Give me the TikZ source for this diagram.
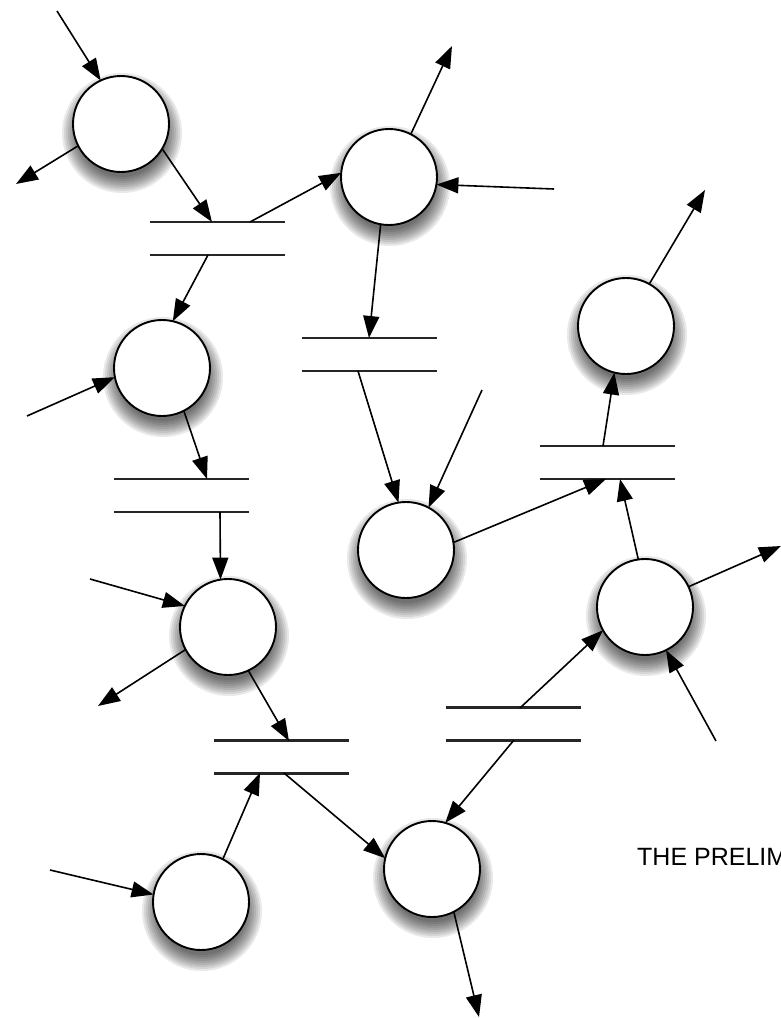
\documentclass[tikz,border=0pt]{standalone}
\usepackage{fontspec}
\newfontfamily\labelfont{Liberation Sans}
\usetikzlibrary{arrows.meta}
\begin{document}
\begin{tikzpicture}[x=1pt,y=-1pt,
  proc/.style={circle, draw=black, line width=1.9pt, fill=white, minimum size=96pt, inner sep=0pt, outer sep=0pt},
  store/.style={rectangle, minimum width=135pt, minimum height=33pt, inner sep=0pt, outer sep=0pt},
  storeline/.style={line width=2.2pt, draw=black!85},
  flow/.style={-{Triangle[length=22pt,width=16pt]}, line width=1.6pt},
  shade/.style={fill=black, opacity=0.085}
]
\useasboundingbox (0,0) rectangle (781,1018);
\clip (0,0) rectangle (781,1018);

% processes with soft shadows
\foreach \n/\x/\y in {c1/121/124, c2/389/177, c3/162/368, c4/626/326, c5/406/550,
                      c6/645/607, c7/228/627, c8/201/902, c9/432/869} {
  \foreach \k in {0,...,8} {
    \fill[shade] (\x+1,\y+9) circle[radius={60pt-\k*2pt}];
  }
  \node[proc] (\n) at (\x,\y) {};
}

% stores
\node[store] (s1) at (217.5,238.5) {};
\node[store] (s2) at (369.5,354.5) {};
\node[store] (s3) at (181.5,495.5) {};
\node[store] (s4) at (607,462.5) {};
\node[store] (s5) at (281.5,757) {};
\node[store] (s6) at (513,724) {};
\foreach \s in {s1,s2,s3,s4,s5,s6} {
  \draw[storeline] (\s.north west) -- (\s.north east);
  \draw[storeline] (\s.south west) -- (\s.south east);
}

% points on store lines
\coordinate (s1in) at (212,222);
\coordinate (s1o1) at (250,222);
\coordinate (s1o2) at (208,255);
\coordinate (s2in) at (369,338);
\coordinate (s2out) at (358,371);
\coordinate (s3in) at (207,479);
\coordinate (s3out) at (220,512);
\coordinate (s4in1) at (606,479);
\coordinate (s4in2) at (620,479);
\coordinate (s4out) at (603,446);
\coordinate (s5in1) at (289,741);
\coordinate (s5in2) at (260,773);
\coordinate (s5out) at (284,773);
\coordinate (s6a) at (520,708);
\coordinate (s6b) at (514,740);

% free ends
\coordinate (e1) at (57,11);
\coordinate (e2) at (16,184);
\coordinate (e6) at (452,46);
\coordinate (e7) at (554,189);
\coordinate (e10) at (482,390);
\coordinate (e13) at (705,190);
\coordinate (e15) at (781,546);
\coordinate (e16) at (716,741);
\coordinate (e19) at (27,416);
\coordinate (e22) at (90,579);
\coordinate (e23) at (98,706);
\coordinate (e27) at (50,870);
\coordinate (e28) at (479,1017);

% connectors
\draw[flow] (e1) -- (c1.115);
\draw[flow] (c1.207) -- (e2);
\draw[flow] (c1.329) -- (s1in);
\draw[flow] (s1o1) -- (c2.175);
\draw[flow] (s1o2) -- (c3.77);
\draw[flow] (c2.63) -- (e6);
\draw[flow] (e7) -- (c2.-9);
\draw[flow] (c2.260) -- (s2in);
\draw[flow] (s2out) -- (c5.99);
\draw[flow] (e10) -- (c5.62);
\draw[flow] (c5.9) -- (s4in1);
\draw[flow] (s4out) -- (c4.256);
\draw[flow] (c4.61) -- (e13);
\draw[flow] (c6.98) -- (s4in2);
\draw[flow] (c6.25) -- (e15);
\draw[flow] (e16) -- (c6.296);
\draw[flow] (s6a) -- (c6.209);
\draw[flow] (s6b) -- (c9.74);
\draw[flow] (e19) -- (c3.191);
\draw[flow] (c3.297) -- (s3in);
\draw[flow] (s3out) -- (c7.99);
\draw[flow] (e22) -- (c7.154);
\draw[flow] (c7.208) -- (e23);
\draw[flow] (c7.295) -- (s5in1);
\draw[flow] (c8.63) -- (s5in2);
\draw[flow] (s5out) -- (c9.167);
\draw[flow] (e27) -- (c8.171);
\draw[flow] (c9.297) -- (e28);

% caption (cut off at the right edge, as in the reference)
\node[anchor=base west, inner sep=0pt, font=\labelfont\fontsize{25}{30}\selectfont] (title) at (637,865) {THE PRELIM};
\end{tikzpicture}
\end{document}
